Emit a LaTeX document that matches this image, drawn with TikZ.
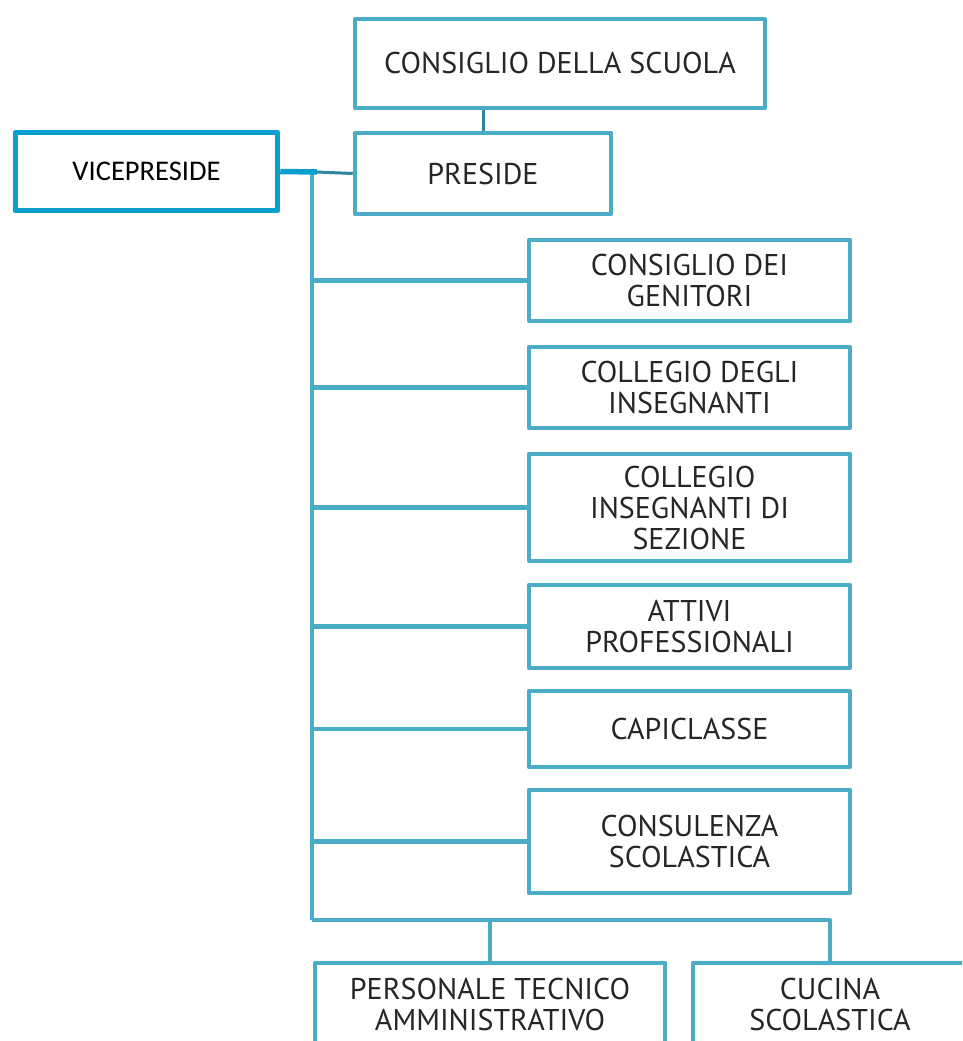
\documentclass[tikz,border=0pt]{standalone}
\usepackage{fontspec}
\usepackage{xcolor}
\newfontfamily\orgfont{PT Sans}
\newfontfamily\vicefont{Carlito}

\begin{document}
\begin{tikzpicture}[x=1pt,y=-1pt,line join=round,
  orgbox/.style={draw=aqua,line width=4.5pt,fill=white,align=center,text=ink,
    inner sep=0pt,font=\orgfont\fontsize{30}{31}\selectfont},
  vicebox/.style={draw=vblue,line width=5.5pt,fill=white,align=center,text=black,
    inner sep=0pt,font=\vicefont\fontsize{28.5}{32}\selectfont},
  link/.style={draw=aqua,line width=4.5pt},
  thinlink/.style={draw=teal,line width=3pt}]
\definecolor{aqua}{HTML}{4BACC6}
\definecolor{vblue}{HTML}{0A9FCF}
\definecolor{teal}{HTML}{31849B}
\definecolor{ink}{HTML}{262626}
\useasboundingbox (0,0) rectangle (962,1041);
\clip (0,0) rectangle (962,1041);
% top of the chart
\node [orgbox,minimum width=410,minimum height=89] (scuola) at (560,63.5) {CONSIGLIO DELLA SCUOLA};
\node [orgbox,minimum width=256,minimum height=81] (preside) at (483,173.5) {PRESIDE};
\node [vicebox,minimum width=262,minimum height=78] (vice) at (146.5,171.5) {VICEPRESIDE};
\draw [thinlink] (preside.north) -- (preside.north |- scuola.south);
\coordinate (top) at (312,172);
\coordinate (bot) at (312,920);
\coordinate (knot) at (317,172);
\draw [thinlink] (knot) -- (preside.west);
\draw [link] (top) -- (bot);
\draw [draw=vblue,line width=5.5pt] (vice.east) -- (knot);
% right column
\foreach \nm/\yc/\hgt/\txt in {genitori/280.5/81/{CONSIGLIO DEI\\GENITORI},
    insegnanti/387.5/81/{COLLEGIO DEGLI\\INSEGNANTI},
    sezione/507.5/107/{COLLEGIO\\INSEGNANTI DI\\SEZIONE},
    attivi/626.5/83/{ATTIVI\\PROFESSIONALI},
    capiclasse/729/76/{CAPICLASSE},
    consulenza/841.5/103/{CONSULENZA\\SCOLASTICA}}
  { \node [orgbox,minimum width=321,minimum height=\hgt] (\nm) at (689.5,\yc) {\txt};
    \draw [link] (\nm.west) -- (\nm.west -| top);}
% bottom row
\node [orgbox,minimum width=350,minimum height=82] (personale) at (490,1004) {PERSONALE TECNICO\\AMMINISTRATIVO};
\node [orgbox,minimum width=274,minimum height=82] (cucina) at (830,1004) {CUCINA\\SCOLASTICA};
\coordinate (corner) at (830,920);
\draw [link] (bot) -- (corner) -- (cucina.north);
\draw [link] (personale.north) -- (personale.north |- bot);
\end{tikzpicture}
\end{document}
